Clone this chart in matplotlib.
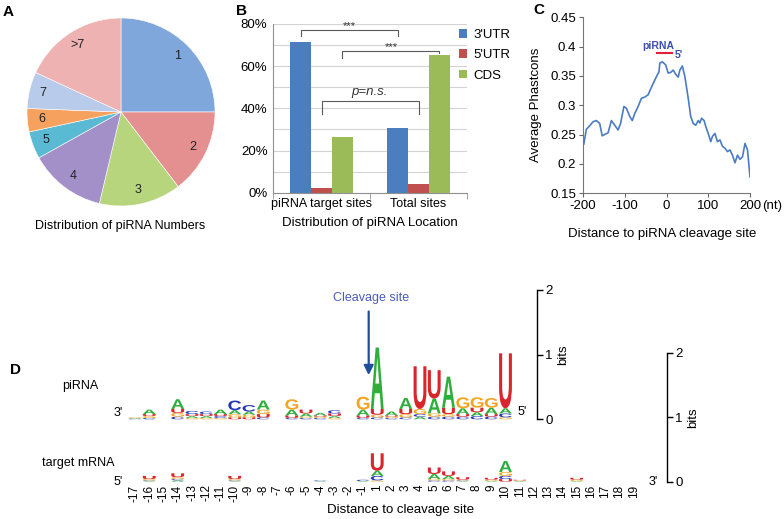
import numpy as np
import matplotlib
matplotlib.use('Agg')
import matplotlib.pyplot as plt
from matplotlib.textpath import TextPath
from matplotlib.patches import PathPatch
from matplotlib.font_manager import FontProperties
from matplotlib.transforms import Affine2D

plt.rcParams['font.family'] = ['Liberation Sans', 'DejaVu Sans']
plt.rcParams['axes.unicode_minus'] = False

# ---- данные ----
# A: pie
pie_labels = ['1', '2', '3', '4', '5', '6', '7', '>7']
pie_values = [25.0, 14.6, 14.1, 13.2, 4.7, 4.0, 6.3, 18.1]
pie_colors = ['#7fa7db', '#e59090', '#b6d57c', '#a390c9', '#5bbad3', '#f6a25e', '#b8cbea', '#efb2b2']

# B: bars
b_cats = ['piRNA target sites', 'Total sites']
utr3 = [71.5, 30.5]
utr5 = [2.0, 4.2]
cds = [26.5, 65.5]

# C: phastcons
c_x = [-198, -192, -184, -176, -168, -160, -154, -146, -140, -132, -124, -116, -110, -102,
       -96, -88, -82, -76, -68, -60, -52, -44, -36, -28, -22, -18, -16, -10, -2, 4, 10,
       16, 22, 28, 32, 38, 44, 52, 58, 64, 70, 76, 80, 84, 90, 94, 100, 106, 110, 116,
       122, 128, 134, 140, 146, 152, 158, 164, 170, 176, 182, 188, 194, 200]
c_y = [0.234, 0.259, 0.265, 0.272, 0.274, 0.269, 0.248, 0.251, 0.253, 0.274, 0.266, 0.258,
       0.269, 0.298, 0.295, 0.281, 0.274, 0.286, 0.298, 0.312, 0.314, 0.318, 0.331, 0.343,
       0.352, 0.357, 0.372, 0.374, 0.369, 0.355, 0.356, 0.360, 0.353, 0.348, 0.360, 0.367,
       0.349, 0.312, 0.281, 0.269, 0.266, 0.274, 0.270, 0.278, 0.274, 0.264, 0.252, 0.238,
       0.247, 0.252, 0.238, 0.241, 0.230, 0.227, 0.221, 0.224, 0.215, 0.202, 0.215, 0.208,
       0.212, 0.235, 0.224, 0.178]

# D: sequence logos (bits per letter), positions -17..-1, 1..19
positions = list(range(-17, 0)) + list(range(1, 20))
pi_A = [.010, .07, 0, .15, .03, .03, .07, .06, .05, .14, 0, .09, .05, .04, .03, 0, .09, .95, .06, .17, .04, .23, .48, .09, .06, .10, .08] + [0] * 9
pi_C = [.005, .02, 0, .04, .05, .04, .03, .15, .10, .03, 0, .02, .02, .02, .05, 0, .02, .03, .02, .03, .04, .04, .04, .04, .05, .04, .06] + [0] * 9
pi_G = [.010, .03, 0, .06, .02, .02, .02, .05, .04, .07, 0, .16, .02, .02, .02, 0, .20, .04, .02, .05, .08, .05, .04, .17, .16, .15, .03] + [0] * 9
pi_U = [.005, .03, 0, .06, .03, .03, .03, .03, .03, .05, 0, .04, .06, .02, .04, 0, .04, .09, .02, .08, .66, .44, .10, .04, .07, .04, .85] + [0] * 9

tg_A = [0, .01, 0, .02, 0, 0, 0, .01, 0, 0, 0, 0, 0, .01, 0, 0, .01, .08, 0, 0, 0, .08, .05, .01, 0, .01, .17, .01, 0, 0, 0, .01, 0, 0, 0, 0]
tg_C = [0, .01, 0, .02, 0, 0, 0, .01, 0, 0, 0, 0, 0, .01, 0, 0, .02, .07, 0, 0, 0, .02, .02, .01, 0, 0, .05, 0, 0, 0, 0, 0, 0, 0, 0, 0]
tg_G = [0, .02, 0, .03, 0, 0, 0, .02, 0, 0, 0, 0, 0, 0, 0, 0, 0, .02, 0, 0, 0, .02, .02, .01, 0, .02, .06, .01, 0, 0, 0, .02, 0, 0, 0, 0]
tg_U = [0, .05, 0, .06, 0, 0, 0, .05, 0, 0, 0, 0, 0, 0, 0, 0, 0, .27, 0, 0, 0, .10, .07, .04, 0, .03, .04, .01, 0, 0, 0, .03, 0, 0, 0, 0]

base_colors = {'A': '#2fae3c', 'C': '#2236b8', 'G': '#f2a51f', 'U': '#d8262a'}

W, H = 784, 519
fig = plt.figure(figsize=(W / 100, H / 100), dpi=100)


def px_box(x0, y0, x1, y1):
    return [x0 / W, 1 - y1 / H, (x1 - x0) / W, (y1 - y0) / H]


# ---------------- A ----------------
axA = fig.add_axes(px_box(27, 18, 215, 206))
wedges, texts = axA.pie(pie_values, labels=pie_labels, colors=pie_colors, startangle=90,
                        counterclock=False, labeldistance=0.85,
                        wedgeprops=dict(edgecolor='white', linewidth=0.4),
                        textprops=dict(fontsize=9, color='#222222'))
for t in texts:
    t.set_ha('center')
    t.set_va('center')
axA.set_xlim(-1, 1)
axA.set_ylim(-1, 1)
fig.text(120 / W, 1 - 226 / H, 'Distribution of piRNA Numbers', ha='center', va='center', fontsize=9)
fig.text(3 / W, 1 - 12 / H, 'A', fontsize=11, fontweight='bold', va='center')

# ---------------- B ----------------
axB = fig.add_axes(px_box(273, 24, 467, 192.7))
xb = np.arange(len(b_cats))
bw = 0.216
b1 = axB.bar(xb - bw, utr3, bw, color='#4a7ebf', label="3'UTR")
b2 = axB.bar(xb, utr5, bw, color='#c0504d', label="5'UTR")
b3 = axB.bar(xb + bw, cds, bw, color='#9bbb59', label='CDS')
axB.set_xlim(-0.5, 1.5)
axB.set_ylim(0, 80)
axB.set_yticks(np.arange(0, 81, 20))
axB.set_yticklabels([f'{v}%' for v in range(0, 81, 20)], fontsize=9.5)
axB.set_yticks(np.arange(10, 80, 20), minor=True)
axB.grid(True, axis='y', which='both', color='#d3d3d3', lw=0.8)
axB.set_axisbelow(True)
axB.set_xticks(xb)
axB.set_xticklabels(b_cats, fontsize=9)
axB.set_xticks([-0.5, 0.5, 1.5], minor=True)
axB.tick_params(axis='x', which='major', length=0, pad=4)
axB.tick_params(axis='x', which='minor', length=4, color='#909090')
axB.tick_params(axis='y', which='both', length=0, pad=4)
for s in ['top', 'right']:
    axB.spines[s].set_visible(False)
for s in ['left', 'bottom']:
    axB.spines[s].set_color('#909090')
axB.set_xlabel('Distribution of piRNA Location', fontsize=9.5, labelpad=5)


def bracket(ax, xa, xb_, y, ya, yb, text, style='normal', ty=1.0):
    ax.plot([xa, xa, xb_, xb_], [ya, y, y, yb], color='#5a5a5a', lw=0.8, clip_on=False)
    ax.text((xa + xb_) / 2, y + ty, text, ha='center', va='bottom', fontsize=8 if style == 'normal' else 9.5,
            style=style, color='#333333')


bracket(axB, xb[0] - bw, xb[1] - bw, 77.2, 74.3, 74.3, '***', ty=-0.5)
bracket(axB, xb[0] + bw, xb[1] + bw, 67.3, 63.9, 66.4, '***', ty=-0.5)
bracket(axB, xb[0], xb[1], 43.5, 37.3, 37.3, 'p=n.s.', style='italic', ty=1.2)

axB.legend(handles=[b1, b2, b3], loc='upper left', bbox_to_anchor=(459 / W, 1 - 29 / H),
           bbox_transform=fig.transFigure, frameon=False, fontsize=9.5, handlelength=0.6,
           handleheight=0.6, handletextpad=0.5, labelspacing=0.63, borderpad=0, borderaxespad=0)
fig.text(236 / W, 1 - 11 / H, 'B', fontsize=11, fontweight='bold', va='center')

# ---------------- C ----------------
axC = fig.add_axes(px_box(583, 17.3, 750, 193.3))
axC.plot(c_x, c_y, color='#4a7cc3', lw=1.2)
axC.set_xlim(-200, 200)
axC.set_ylim(0.15, 0.45)
axC.set_xticks([-200, -100, 0, 100, 200])
axC.set_yticks([0.15, 0.2, 0.25, 0.3, 0.35, 0.4, 0.45])
axC.set_yticklabels(['0.15', '0.2', '0.25', '0.3', '0.35', '0.4', '0.45'])
axC.tick_params(labelsize=9.5, length=3, pad=2, color='#666666')
for s in ['top', 'right']:
    axC.spines[s].set_visible(False)
for s in ['left', 'bottom']:
    axC.spines[s].set_color('#777777')
axC.text(1.13, -0.04, '(nt)', transform=axC.transAxes, ha='center', va='top', fontsize=9.5)
axC.set_ylabel('Average Phastcons', fontsize=9.5)
axC.yaxis.set_label_coords(-0.247, 0.5)
axC.set_xlabel('Distance to piRNA cleavage site', fontsize=9.5)
axC.xaxis.set_label_coords(0.473, -0.197)
axC.plot([-23.5, 12.4], [0.389, 0.389], color='#e0203a', lw=1.5)
axC.text(-20.4, 0.401, 'piRNA', color='#3a4fb0', fontsize=7.5, fontweight='bold', ha='center', va='center')
axC.text(30, 0.386, "5'", color='#3a4fb0', fontsize=7.5, fontweight='bold', ha='center', va='center')
fig.text(533 / W, 1 - 10 / H, 'C', fontsize=11, fontweight='bold', va='center')

# ---------------- D ----------------
step = 14.25
x_first = 135
logo_font = FontProperties(family='Liberation Sans', weight='bold')
glyphs = {b: TextPath((0, 0), b, size=1, prop=logo_font) for b in 'ACGU'}


def draw_logo(ax, cols):
    letters = 'ACGU'
    for i in range(len(positions)):
        hs = sorted([(cols[k][i], letters[k]) for k in range(4)])
        y0 = 0.0
        for h, b in hs:
            if h < 0.004:
                y0 += h
                continue
            p = glyphs[b]
            ext = p.get_extents()
            tr = (Affine2D().translate(-ext.x0, -ext.y0)
                  .scale(0.9 / ext.width, h / ext.height)
                  .translate(i - 0.45, y0))
            ax.add_patch(PathPatch(tr.transform_path(p), facecolor=base_colors[b],
                                   edgecolor='none', clip_on=False))
            y0 += h


def setup_logo_axes(ax, right_px):
    ax.set_xlim((120 - x_first) / step, (right_px - x_first) / step)
    ax.set_ylim(0, 2)
    ax.patch.set_alpha(0)
    for s in ['top', 'left', 'bottom']:
        ax.spines[s].set_visible(False)
    ax.spines['right'].set_bounds(0, 2)
    ax.spines['right'].set_linewidth(1.0)
    ax.yaxis.tick_right()
    ax.set_yticks([0, 1, 2])
    ax.tick_params(axis='y', length=4, width=1.0, labelsize=9.5, pad=2)
    ax.yaxis.set_label_position('right')
    ax.set_ylabel('bits', fontsize=9.5, labelpad=3)


ax1 = fig.add_axes(px_box(120, 290, 537, 419.3))
setup_logo_axes(ax1, 537)
ax1.set_xticks([])
draw_logo(ax1, [pi_A, pi_C, pi_G, pi_U])
ax1.text(-1.2, 0.1, "3'", ha='center', va='center', fontsize=9)
ax1.text(27.2, 0.12, "5'", ha='center', va='center', fontsize=9)
ax1.text(-3.86, 0.515, 'piRNA', ha='center', va='center', fontsize=9)
ax1.annotate('', xy=(16.4, 0.64), xytext=(16.4, 1.71),
             arrowprops=dict(arrowstyle='-|>', color='#1f4e9c', lw=1.6, mutation_scale=14))
ax1.text(16.6, 1.88, 'Cleavage site', ha='center', va='center', fontsize=9, color='#4a5cb8')

ax2 = fig.add_axes(px_box(120, 352.7, 667, 481.7))
setup_logo_axes(ax2, 667)
ax2.set_xticks(range(len(positions)))
ax2.set_xticklabels([str(p) for p in positions], rotation=90, fontsize=8.5)
ax2.tick_params(axis='x', length=0, pad=2)
draw_logo(ax2, [tg_A, tg_C, tg_G, tg_U])
ax2.text(-1.2, 0.0, "5'", ha='center', va='center', fontsize=9)
ax2.text(36.35, 0.0, "3'", ha='center', va='center', fontsize=9)
ax2.text(-4.0, 0.29, 'target mRNA', ha='center', va='center', fontsize=9)
ax2.text((401 - 120) / (667 - 120), -(510 - 481.7) / 129, 'Distance to cleavage site',
         transform=ax2.transAxes, ha='center', va='center', fontsize=9.5)
fig.text(10 / W, 1 - 370 / H, 'D', fontsize=11, fontweight='bold', va='center')

fig.savefig('out.png', dpi=100)
